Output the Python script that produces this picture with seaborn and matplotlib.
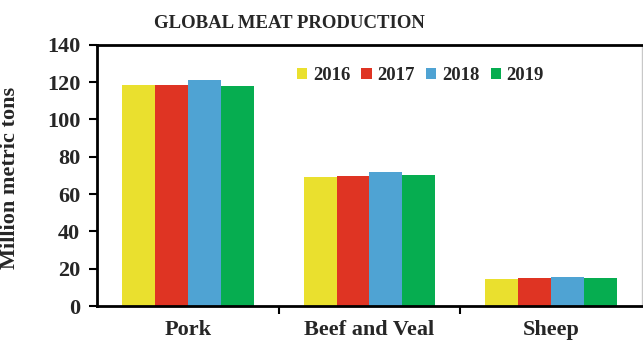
import matplotlib
matplotlib.use("Agg")
import matplotlib.pyplot as plt
from matplotlib.ticker import FixedLocator
import seaborn as sns
import pandas as pd

# Production data (million metric tons)
categories = ["Pork", "Beef and Veal", "Sheep"]
years = ["2016", "2017", "2018", "2019"]
values_2016 = [118.4, 69.1, 14.6]
values_2017 = [118.4, 69.8, 14.8]
values_2018 = [120.9, 72.0, 15.4]
values_2019 = [117.9, 70.4, 15.2]
y_ticks = [0, 20, 40, 60, 80, 100, 120, 140]

colors = ["#EAE02E", "#DF3423", "#4FA3D3", "#06AD50"]

rows = []
for yr, vals in zip(years, [values_2016, values_2017, values_2018, values_2019]):
    for cat, v in zip(categories, vals):
        rows.append({"Category": cat, "Year": yr, "Value": v})
df = pd.DataFrame(rows)

sns.set_theme(style="white")
plt.rcParams["font.family"] = ["Liberation Serif", "DejaVu Serif"]
plt.rcParams["font.weight"] = "bold"

fig = plt.figure(figsize=(6.43, 3.42), dpi=100)
ax = fig.add_axes([97 / 643, 1 - 306 / 342, (642 - 97) / 643, (306 - 44.7) / 342])

sns.barplot(data=df, x="Category", y="Value", hue="Year", order=categories,
            hue_order=years, palette=colors, width=0.726, gap=0,
            saturation=1, linewidth=0, ax=ax)

ax.set_xlim(-0.5, 2.5)
ax.set_ylim(0, 140)
ax.set_yticks(y_ticks)
ax.set_yticklabels([str(t) for t in y_ticks], fontsize=16, fontweight="bold")
ax.set_xticks(range(len(categories)))
ax.set_xticklabels(categories, fontsize=16, fontweight="bold")
ax.tick_params(axis="x", which="major", length=0, pad=10)
ax.xaxis.set_minor_locator(FixedLocator([0.5, 1.5]))
ax.tick_params(axis="x", which="minor", length=6, width=1.5, color="black", direction="out", bottom=True)
ax.tick_params(axis="y", length=6, width=1.5, color="black", direction="out", left=True, pad=6)

ax.set_xlabel("")
ax.set_ylabel("Million metric tons", fontsize=16, fontweight="bold")
ax.yaxis.set_label_coords((20 - 97) / 545, 0.49)

for side in ["left", "top", "bottom"]:
    ax.spines[side].set_color("black")
    ax.spines[side].set_linewidth(2)
ax.spines["right"].set_color("#c8c8c8")
ax.spines["right"].set_linewidth(1)

ax.set_title("GLOBAL MEAT PRODUCTION", fontsize=13.5, fontweight="bold", pad=12,
             x=(289.5 - 97) / (642 - 97))

leg = ax.legend(loc="center", bbox_to_anchor=((420.5 - 97) / (642 - 97), (306 - 75.7) / (306 - 44.7)),
                ncol=4, frameon=False, handlelength=0.55, handleheight=0.55,
                handletextpad=0.3, columnspacing=0.6,
                prop={"family": "Liberation Serif", "weight": "bold", "size": 13.5})

fig.savefig("out.png", dpi=100)
